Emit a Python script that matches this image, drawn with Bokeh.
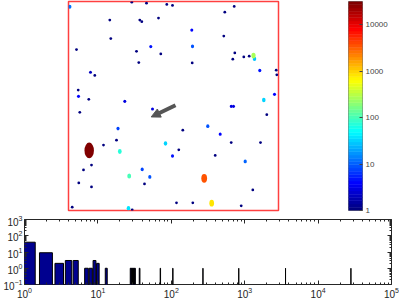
import numpy as np
from bokeh.plotting import figure
from bokeh.layouts import column, row
from bokeh.models import (Range1d, FixedTicker, LogAxis, Arrow, NormalHead,
                          PrintfTickFormatter, ColumnDataSource, CustomJSTickFormatter)
from bokeh.transform import log_cmap
from bokeh.embed import file_html
from bokeh.resources import INLINE

# ---------------- data ----------------
# blobs in the image (image-pixel coordinates, y downwards) and their pixel counts
blob_x = [63.3, 78, 98.3, 104, 165.7, 156.3, 41.3, 71.3, 73.3, 90, 42.3, 155.3, 8, 68, 92.3,
          166.3, 164.3, 175.3, 180.7, 70.3, 123.7, 26.3, 207.7, 208.3, 9.7, 20.3, 11.3, 198.3,
          114.3, 48, 35, 162.7, 192, 110.3, 146.7, 23, 15, 76, 10.3, 23, 184.3, 108, 124.3,
          172.7, 3.7, 63.7,
          22, 82.3, 10, 56.3, 123.3, 124, 191.3, 206, 162.7, 165, 84, 49.5, 139.3, 151.7, 104,
          176.7, 73.7, 81.3,
          1.3, 186, 195.3, 97, 60, 51.3, 60.7, 185, 143.2, 135.7, 20.7]
blob_y = [0.7, 1.7, 3, 4, 5, 10.7, 18.7, 18.7, 20.3, 16.7, 37.3, 34.7, 48.3, 50, 52.7,
          51.7, 58, 55.7, 55, 61.3, 61.7, 74.3, 69, 73.7, 89, 98.3, 111.3, 113.7,
          129.3, 139.3, 144.3, 141.7, 141.7, 149, 154.7, 164.3, 169.3, 183.3, 182.3, 186.3, 189.3, 202.3, 202.3,
          205.3, 206.7, 209.3,
          71, 45.3, 95.3, 100.3, 28.7, 45, 69.3, 93.3, 105.3, 105.3, 108, 127.7, 125.3, 133.3, 155.3,
          160.7, 168.7, 176.3,
          5.3, 57.7, 99, 142.7, 207.7, 150.7, 175.3, 54.3, 202.7, 177.7, 149.7]
blob_size = [1] * 46 + [2, 5, 4, 3, 4, 9, 5, 4, 3, 3, 3, 8, 9, 4, 5, 10, 7, 9] + \
            [13, 29, 33, 31, 37, 71, 105, 270, 830, 3600, 28000]

# histogram of blob sizes
hist_value = [1, 2, 3, 4, 5, 7, 8, 9, 10, 13, 28, 29, 30, 31, 32, 37, 71, 105, 270, 830, 3600, 28000]
hist_count = [40, 9, 2, 3, 3, 1, 1, 3, 2, 1, 1, 1, 1, 1, 1, 1, 1, 1, 1, 1, 1, 1]

cbar_low, cbar_high = 1, 10 ** 4.5
cbar_ticks = [1, 10, 100, 1000, 10000]
hist_xticks = [1, 10, 100, 1000, 10000, 100000]
hist_yticks = [0.1, 1, 10, 100, 1000]

# arrow annotation (image coordinates)
arrow_start = (107, 104.3)
arrow_end = (82.7, 116)

# ---------------- styles ----------------
def jet(n):
    t = np.linspace(0, 1, n)
    r = np.clip(1.5 - np.abs(4 * t - 3), 0, 1)
    g = np.clip(1.5 - np.abs(4 * t - 2), 0, 1)
    b = np.clip(1.5 - np.abs(4 * t - 1), 0, 1)
    return ["#%02x%02x%02x" % (int(round(255 * a)), int(round(255 * c)), int(round(255 * d)))
            for a, c, d in zip(r, g, b)]

JET = jet(64)
FONT = "Liberation Sans"
AXC = "#262626"

v = np.array(blob_size, dtype=float)
area = 6 * v ** 0.2 + 0.0025 * v
aspect = 1 + 0.15 * np.log10(v)
bw = np.sqrt(4 * area / (np.pi * aspect))
bh = bw * aspect
order = np.argsort(v, kind="stable")
src = ColumnDataSource(dict(x=np.array(blob_x)[order], y=np.array(blob_y)[order],
                            v=v[order], w=bw[order], h=bh[order]))

# ---------------- image panel ----------------
p_img = figure(frame_width=210, frame_height=209, x_range=Range1d(0, 210), y_range=Range1d(210, 0),
               x_axis_location=None, y_axis_location=None, toolbar_location=None,
               output_backend="svg", min_border_left=68, min_border_right=10,
               min_border_top=1, min_border_bottom=5)
p_img.grid.grid_line_color = None
p_img.outline_line_color = "#ff4040"
p_img.outline_line_width = 1.5
p_img.ellipse(x="x", y="y", width="w", height="h", width_units="screen", height_units="screen",
              source=src, fill_color=log_cmap("v", JET, cbar_low, cbar_high), line_color=None)
p_img.add_layout(Arrow(end=NormalHead(size=9, fill_color="#555555", line_color="#555555"),
                       x_start=arrow_start[0], y_start=arrow_start[1],
                       x_end=arrow_end[0], y_end=arrow_end[1],
                       line_color="#555555", line_width=4))

# ---------------- colorbar ----------------
edges = 10 ** np.linspace(np.log10(cbar_low), np.log10(cbar_high), len(JET) + 1)
p_cb = figure(frame_width=14, frame_height=209, x_range=Range1d(0, 1),
              y_range=Range1d(cbar_low, cbar_high), y_axis_type="log",
              x_axis_location=None, y_axis_location="right", toolbar_location=None,
              output_backend="svg", min_border_left=60, min_border_right=37,
              min_border_top=1, min_border_bottom=5)
p_cb.grid.grid_line_color = None
p_cb.quad(left=0, right=1, bottom=edges[:-1], top=edges[1:], fill_color=JET, line_color=JET,
          line_width=0.5)
p_cb.outline_line_color = "#555555"
p_cb.outline_line_width = 0.8
ya = p_cb.yaxis[0]
ya.ticker = FixedTicker(ticks=cbar_ticks, minor_ticks=[])
ya.formatter = PrintfTickFormatter(format="%d")
ya.axis_line_color = None
ya.major_tick_in = 3
ya.major_tick_out = 0
ya.major_tick_line_color = "#444444"
ya.major_label_standoff = 3
ya.major_label_text_font = FONT
ya.major_label_text_font_size = "8px"
ya.major_label_text_color = "#444444"

# ---------------- histogram ----------------
p_hist = figure(width=399, height=85, x_axis_type="log", y_axis_type="log",
                x_range=Range1d(1, 1e5), y_range=Range1d(0.1, 1000),
                toolbar_location=None, output_backend="svg",
                min_border_left=2, min_border_right=8, min_border_top=4, min_border_bottom=0)
p_hist.grid.grid_line_color = None
p_hist.outline_line_color = AXC
p_hist.outline_line_width = 1
hv = np.array(hist_value, dtype=float)
p_hist.quad(left=hv - 0.4, right=hv + 0.4, bottom=0.001, top=hist_count,
            fill_color="#00008f", line_color="black", line_width=1)

xminor = [k * 10 ** d for d in range(0, 5) for k in range(2, 10)]
yminor = [k * 10 ** d for d in range(-1, 3) for k in range(2, 10)]


def style_axis(ax, labels=True):
    ax.axis_line_color = None
    ax.major_tick_in = 4
    ax.major_tick_out = 0
    ax.minor_tick_in = 2
    ax.minor_tick_out = 0
    ax.major_tick_line_color = AXC
    ax.minor_tick_line_color = AXC
    ax.major_label_text_font = FONT
    ax.major_label_text_color = AXC
    ax.major_label_text_font_size = "10px"
    if labels:
        ax.major_label_standoff = 2
    else:
        ax.formatter = CustomJSTickFormatter(code="return ''")
        ax.major_label_standoff = 0


p_hist.xaxis[0].ticker = FixedTicker(ticks=hist_xticks, minor_ticks=xminor)
p_hist.yaxis[0].ticker = FixedTicker(ticks=hist_yticks, minor_ticks=yminor)
style_axis(p_hist.xaxis[0])
style_axis(p_hist.yaxis[0])
top_ax = LogAxis(ticker=FixedTicker(ticks=hist_xticks, minor_ticks=xminor))
right_ax = LogAxis(ticker=FixedTicker(ticks=hist_yticks, minor_ticks=yminor))
style_axis(top_ax, labels=False)
style_axis(right_ax, labels=False)
p_hist.add_layout(top_ax, "above")
p_hist.add_layout(right_ax, "right")

layout = column(row(p_img, p_cb), p_hist)
open("out.html", "w").write(file_html(layout, INLINE))
